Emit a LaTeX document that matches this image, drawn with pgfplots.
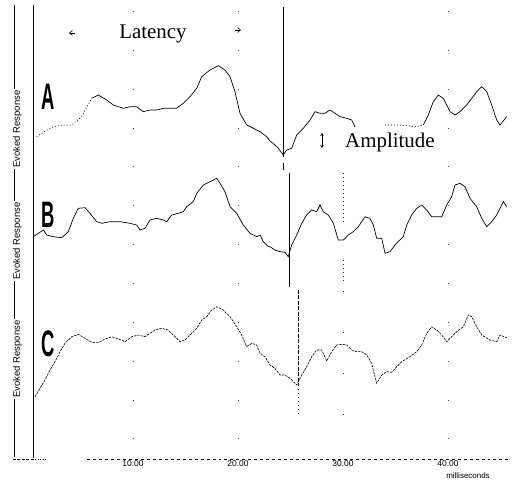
\documentclass[border=0pt]{standalone}
\usepackage{pgfplots}
\pgfplotsset{compat=1.18}
\usepackage{fontspec}
\setmainfont{Liberation Serif}
\setsansfont{Liberation Sans}
\usetikzlibrary{arrows.meta}
\begin{document}
\begin{tikzpicture}
\path[use as bounding box] (0,0) rectangle (514bp,481bp);
\begin{axis}[
  at={(33bp,23bp)}, anchor=south west, scale only axis,
  width=478bp, height=453bp,
  xmin=0.476, xmax=46.0, ymin=23, ymax=476,
  axis line style={draw=none},
  xtick={10,20,30,40}, xticklabels={10.00,20.00,30.00,40.00},
  ytick=\empty, major tick length=0pt,
  xticklabel style={font=\sffamily\fontsize{8.5}{8.5}\selectfont, anchor=north, inner sep=0pt, yshift=-2.5pt},
  clip=false,
]
% sparse dotted grid lines
\foreach \gx in {10,20,40}{
  \edef\tmp{\noexpand\draw[black!70, dash pattern=on 1pt off 38pt] (axis cs:\gx,470) -- (axis cs:\gx,30);}\tmp
}
\draw[black!80, dash pattern=on 1pt off 3pt] (axis cs:30,308) -- (axis cs:30,259);
\draw[black!80, dash pattern=on 1pt off 3pt] (axis cs:30,221) -- (axis cs:30,199);
\draw[black!80, dash pattern=on 1pt off 40pt] (axis cs:30,190) -- (axis cs:30,30);
% marker lines
\draw[line width=0.6pt] (axis cs:24.35,474) -- (axis cs:24.35,324);
\draw[line width=0.6pt] (axis cs:24.35,318) -- (axis cs:24.35,311);
\draw[line width=0.7pt] (axis cs:24.92,308) -- (axis cs:24.92,194);
\draw[line width=0.6pt, dash pattern=on 4pt off 1.5pt] (axis cs:25.78,191) -- (axis cs:25.78,96);
\draw[line width=0.6pt, dash pattern=on 1pt off 3pt] (axis cs:25.78,96) -- (axis cs:25.78,66);
% Trace A
\addplot[black, line width=0.6pt, dash pattern=on 1pt off 2pt] coordinates {
(0.83,344.3) (1.46,348.7) (2.41,354.3) (3.36,356) (4.16,356) (5.11,364.3) (6.07,382.7)};
\addplot[black, line width=0.7pt] coordinates {
(6.07,382.7) (6.70,386) (7.50,381) (8.12,376) (9.08,372.7) (9.71,374.3) (10.35,374.3)
(10.98,369.3) (11.62,371) (12.26,371) (12.89,372.7) (13.52,372.7) (14.16,372.7)
(14.79,377.7) (15.43,384.3) (16.07,392.7) (16.54,404.3) (17.33,411) (18.12,415.3)
(18.76,411) (19.24,404.3) (19.71,389.3) (20.19,367.7) (20.83,356) (21.46,352.7)
(22.10,349.3) (22.73,344.3) (23.05,340) (23.52,336) (23.84,332.7) (24.31,326)
(24.64,331) (25.11,332.7) (25.59,346) (26.22,352.7) (26.86,361) (27.33,369.3)
(27.81,367.7) (28.29,367.7) (28.76,371) (29.24,367.7) (29.71,364.3) (30.35,362.7)
(30.83,361) (31.14,354.3)};
\addplot[black, line width=0.6pt, dash pattern=on 1pt off 2pt] coordinates {
(34.0,356) (35.43,356) (37.02,354.3) (37.65,356)};
\addplot[black, line width=0.7pt] coordinates {
(37.65,356) (38.12,366) (38.60,379.3) (39.08,386) (39.55,382.7) (39.88,376) (40.19,369.3)
(40.67,366) (41.14,369.3) (41.78,376) (42.26,382.7) (42.73,389.3) (43.21,394.3)
(43.69,389.3) (44.16,376) (44.64,361) (44.95,356) (45.59,364.3)};
% Trace B
\addplot[black, line width=0.7pt] coordinates {
(0.50,244.3) (0.98,247.7) (1.46,251) (1.78,246) (2.41,244.3) (3.21,243.3) (3.84,249.3)
(4.31,262.7) (4.79,272.7) (5.43,273.3) (5.90,267.7) (6.54,259.3) (7.02,257.7)
(7.81,259.3) (8.76,259.3) (9.71,257.7) (10.35,256) (10.67,251) (11.14,252.7)
(11.62,261) (12.26,262.7) (12.89,261) (13.21,259.3) (13.69,266) (14.31,267.7)
(14.79,269.3) (15.11,274.3) (15.74,279.3) (16.07,287.7) (16.70,296) (17.33,299.3)
(17.97,302.7) (18.29,297.7) (18.76,289.3) (19.24,274.3) (19.88,267.7) (20.50,256)
(21.14,247.7) (21.78,244.3) (22.10,246) (22.41,239.3) (22.89,234.3) (23.05,234.3)
(23.52,231) (24.0,229.3) (24.48,228.7) (24.79,224.3) (25.11,236) (25.59,246)
(26.07,257.7) (26.54,266) (27.02,271) (27.49,269.3) (27.81,276) (28.12,269.3)
(28.60,266) (29.08,257.7) (29.55,241) (30.03,241) (30.50,246) (30.98,249.3)
(31.46,254.3) (32.10,264.3) (32.57,262.7) (32.89,256) (33.21,242.7) (33.69,242.7)
(34.0,227.7) (34.48,229.3) (34.95,236) (35.74,244.3) (36.07,256) (36.54,266)
(37.02,272.7) (37.50,276) (37.97,271) (38.45,264.3) (38.92,264.3) (39.40,264.3)
(39.88,276) (40.35,284.3) (40.67,296) (41.14,297.7) (41.62,294.3) (42.10,282.7)
(42.73,274.3) (43.21,262.7) (43.69,254.3) (44.16,259.3) (44.64,266) (45.27,279.3)
(45.59,274.3)};
% Trace C
\addplot[black, line width=0.6pt, dash pattern=on 2.5pt off 1pt] coordinates {
(0.67,84.3) (1.14,92.7) (1.62,101) (2.10,111) (2.57,119.3) (3.05,129.3) (3.52,137.7)
(4.16,144.3) (4.79,146.7) (5.43,142.7) (6.07,138.7) (6.70,138.3) (7.33,142)
(7.97,144.3) (8.60,142) (9.24,139.3) (9.88,144.3) (10.50,146) (11.14,144.3)
(11.62,147.7) (12.10,151) (12.73,152.7) (13.36,151) (13.84,146) (14.48,139.3)
(14.95,141) (15.43,146) (16.07,152.7) (16.54,161) (17.02,164.3) (17.50,171)
(17.97,174.3) (18.60,171) (19.24,164.3) (19.88,154.3) (20.35,146) (20.83,134.3)
(21.30,137.7) (21.78,136) (22.10,127.7) (22.57,124.3) (23.05,116) (23.52,112.7)
(24.0,106) (24.48,106) (24.95,102.7) (25.59,96) (26.07,106) (26.54,114.3)
(27.02,124.3) (27.49,131) (27.97,131) (28.45,120) (28.92,129.3) (29.40,136)
(29.88,136.7) (30.35,136) (30.83,131) (31.30,129.3) (31.78,129.3) (32.26,126)
(32.73,117.7) (33.21,97.7) (33.69,106) (34.16,109.3) (34.64,108.7) (35.11,114.3)
(35.59,119.3) (36.38,124.3) (37.02,129.3) (37.50,136) (37.97,147.7) (38.45,154.3)
(38.92,151) (39.40,146) (39.88,139.3) (40.35,144.3) (40.83,149.3) (41.46,154.3)
(41.93,166) (42.26,164.3) (42.73,154.3) (43.21,146) (44.0,141) (44.64,139.3)
(44.95,146) (45.59,143.3)};
\end{axis}
% axis lines
\draw[line width=0.8pt] (33bp,23bp) -- (33bp,476bp);
\draw[line width=0.6pt, dash pattern=on 1pt off 1.5pt] (33bp,22bp) -- (46bp,22bp);
\draw[line width=0.6pt, dash pattern=on 3pt off 3pt] (87bp,22bp) -- (508bp,22bp);
\draw[line width=0.6pt, dash pattern=on 3pt off 1.5pt] (13bp,22bp) -- (33bp,22bp);
% outer left line with labels
\draw[line width=0.6pt] (14bp,24bp) -- (14bp,476bp);
\foreach \yy in {352,240,122}{
  \node[rotate=90, fill=white, inner sep=1.5pt, font=\sffamily\fontsize{9.5}{9.5}\selectfont] at (17.5bp,\yy bp) {Evoked Response};
}
% panel letters
\node[anchor=base, inner sep=0pt] at (48bp,371bp) {\scalebox{0.5}[1]{\sffamily\bfseries\fontsize{37}{37}\selectfont A}};
\node[anchor=base, inner sep=0pt] at (48bp,253bp) {\scalebox{0.5}[1]{\sffamily\bfseries\fontsize{37}{37}\selectfont B}};
\node[anchor=base, inner sep=0pt] at (48bp,124bp) {\scalebox{0.5}[1]{\sffamily\bfseries\fontsize{37}{37}\selectfont C}};
% Latency
\node[anchor=base, inner sep=0pt, font=\fontsize{21}{21}\selectfont] at (153bp,442bp) {Latency};
\draw[line width=0.6pt, -{Straight Barb[length=3pt,width=5pt]}] (75bp,448bp) -- (69bp,448bp);
\draw[line width=0.6pt, -{Straight Barb[length=3pt,width=5pt]}] (235bp,451bp) -- (241bp,451bp);
% Amplitude
\draw[line width=0.7pt, {Stealth[length=3pt,width=3.5pt]}-{Stealth[length=3pt,width=3.5pt]}] (322bp,333bp) -- (322bp,348bp);
\node[anchor=base west, inner sep=0pt, font=\fontsize{21}{21}\selectfont] at (345bp,333bp) {Amplitude};
% x label
\node[anchor=base, inner sep=0pt, font=\sffamily\fontsize{8}{8}\selectfont] at (468bp,2.5bp) {milliseconds};
\end{tikzpicture}
\end{document}
